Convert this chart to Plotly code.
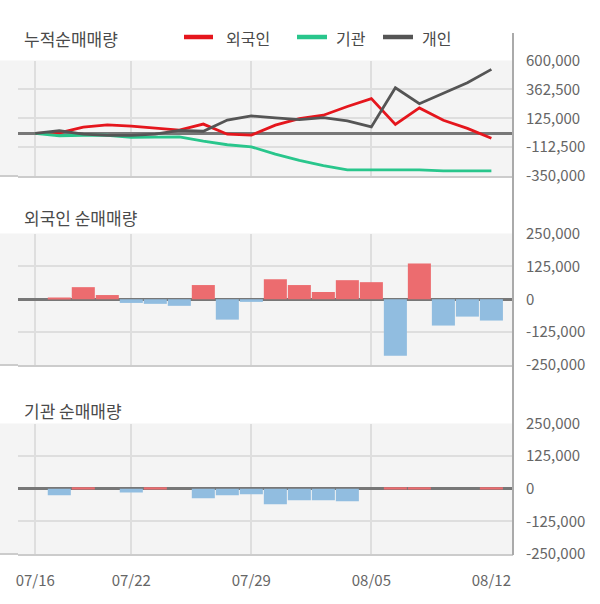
import plotly.graph_objects as go
from plotly.subplots import make_subplots

# ---------------- data ----------------
dates = ["07/16", "07/17", "07/18", "07/19", "07/22", "07/23", "07/24", "07/25", "07/26",
         "07/29", "07/30", "07/31", "08/01", "08/02", "08/05", "08/06", "08/07", "08/08",
         "08/09", "08/12"]
tick_dates = ["07/16", "07/22", "07/29", "08/05", "08/12"]
grid_dates = ["07/16", "07/22", "07/29", "08/05"]

cum_foreign = [0, 5000, 52000, 70000, 60000, 47000, 28000, 77000, -6000, -14000,
               68000, 122000, 150000, 222000, 287000, 74000, 210000, 108000, 42000, -39000]
cum_inst = [0, -19000, -15000, -15000, -33000, -28000, -28000, -64000, -93000, -110000,
            -170000, -222000, -265000, -300000, -300000, -300000, -300000, -308000, -308000, -308000]
cum_indiv = [0, 22000, -5000, -16000, -16000, -5000, 25000, 18000, 110000, 144000,
             128000, 114000, 130000, 103000, 54000, 376000, 245000, 330000, 417000, 527000]

net_foreign = [0, 5000, 46000, 16000, -14000, -17500, -25000, 54000, -77500, -10000,
               76000, 54000, 27500, 72500, 65000, -215000, 136000, -100000, -66000, -81000]
net_inst = [0, -25000, 6000, 0, -14000, 6000, 0, -36000, -25000, -21000,
            -59000, -44000, -44000, -47500, 0, 6000, 6000, 0, 0, 6000]

cum_ticks = [-350000, -112500, 125000, 362500, 600000]
cum_ticktext = ["-350,000", "-112,500", "125,000", "362,500", "600,000"]
bar_ticks = [-250000, -125000, 0, 125000, 250000]
bar_ticktext = ["-250,000", "-125,000", "0", "125,000", "250,000"]

series_names = ["외국인", "기관", "개인"]
panel_titles = ["누적순매매량", "외국인 순매매량", "기관 순매매량"]

# ---------------- style ----------------
W, H = 600, 604
FONT = "Noto Sans CJK KR"
RED, GREEN, DARK = "#e5161d", "#29c68c", "#555555"
POS, NEG = "#ec6c6f", "#91bde0"
BG, GRID = "#f4f4f4", "#dedede"

x = list(range(len(dates)))
tickvals = [dates.index(d) for d in tick_dates]
gridvals = [dates.index(d) for d in grid_dates]

def px_x(p):
    return p / W

def px_y(p):
    return 1 - p / H

fig = make_subplots(rows=3, cols=1, shared_xaxes=True)

for vals, col, name in zip([cum_foreign, cum_inst, cum_indiv], [RED, GREEN, DARK], series_names):
    fig.add_trace(go.Scatter(x=x, y=vals, mode="lines", name=name,
                             line=dict(color=col, width=2.8), showlegend=False), row=1, col=1)

fig.add_trace(go.Bar(x=x, y=net_foreign, marker=dict(color=[POS if v >= 0 else NEG for v in net_foreign], line=dict(width=0)),
                     showlegend=False), row=2, col=1)
fig.add_trace(go.Bar(x=x, y=net_inst, marker=dict(color=[POS if v >= 0 else NEG for v in net_inst], line=dict(width=0)),
                     showlegend=False), row=3, col=1)

x_dom = [px_x(18), px_x(513)]
panels_px = [(60.5, 176), (233.5, 365), (423.5, 554)]
xrange = [-0.72, 19.9]

for i, (top, bot) in enumerate(panels_px, start=1):
    xa = "xaxis" if i == 1 else f"xaxis{i}"
    ya = "yaxis" if i == 1 else f"yaxis{i}"
    fig.layout[xa].update(domain=x_dom, range=xrange, showgrid=False, automargin=False,
                          tickvals=tickvals, ticktext=tick_dates,
                          showticklabels=(i == 3), ticks="",
                          ticklabelstandoff=12,
                          tickfont=dict(family=FONT, size=15, color="#666666"),
                          showline=True, linecolor="#cccccc", linewidth=2,
                          minor=dict(tickvals=gridvals, showgrid=True, gridcolor=GRID, gridwidth=1.5, ticks=""),
                          zeroline=False)
    if i == 1:
        fig.layout[ya].update(domain=[px_y(bot), px_y(top)], range=[-350000, 600000],
                              tickvals=cum_ticks, ticktext=cum_ticktext)
    else:
        fig.layout[ya].update(domain=[px_y(bot), px_y(top)], range=[-250000, 250000],
                              tickvals=bar_ticks, ticktext=bar_ticktext)
    fig.layout[ya].update(side="right", showgrid=True, gridcolor=GRID, gridwidth=1.5,
                          zeroline=True, zerolinecolor="#777777", zerolinewidth=2.5,
                          ticks="", ticklabelstandoff=12, automargin=False,
                          tickfont=dict(family=FONT, size=15, color="#666666"))
    # gray strip left of the plot area + bottom border extension
    fig.add_shape(type="rect", xref="paper", yref="paper", x0=0, x1=x_dom[0],
                  y0=px_y(bot), y1=px_y(top), fillcolor=BG, line=dict(width=0), layer="below")
    fig.add_shape(type="line", xref="paper", yref="paper", x0=0, x1=x_dom[0],
                  y0=px_y(bot), y1=px_y(bot), line=dict(color="#cccccc", width=2))
    # panel title
    fig.add_annotation(text=panel_titles[i - 1], xref="paper", yref="paper",
                       x=px_x(22), y=px_y([39, 217, 410][i - 1]), xanchor="left", yanchor="middle",
                       showarrow=False, font=dict(family=FONT, size=17, color="#4a4a4a"))

# right vertical axis line spanning all panels
fig.add_shape(type="line", xref="paper", yref="paper", x0=px_x(513), x1=px_x(513),
              y0=px_y(555), y1=px_y(33), line=dict(color="#aaaaaa", width=2))

# manual legend
legend_pos = [(184, 213, 224), (297, 327, 334), (383, 413, 420)]
for (lx0, lx1, tx), col, name in zip(legend_pos, [RED, GREEN, DARK], series_names):
    fig.add_shape(type="line", xref="paper", yref="paper", x0=px_x(lx0), x1=px_x(lx1),
                  y0=px_y(37), y1=px_y(37), line=dict(color=col, width=4.5))
    fig.add_annotation(text=name, xref="paper", yref="paper", x=px_x(tx), y=px_y(38),
                       xanchor="left", yanchor="middle", showarrow=False,
                       font=dict(family=FONT, size=16, color="#4a4a4a"))

fig.update_layout(width=W, height=H, margin=dict(l=0, r=0, t=0, b=0, pad=0, autoexpand=False),
                  paper_bgcolor="white", plot_bgcolor=BG, bargap=0.04,
                  font=dict(family=FONT), showlegend=False)

fig.write_html("out.html")
